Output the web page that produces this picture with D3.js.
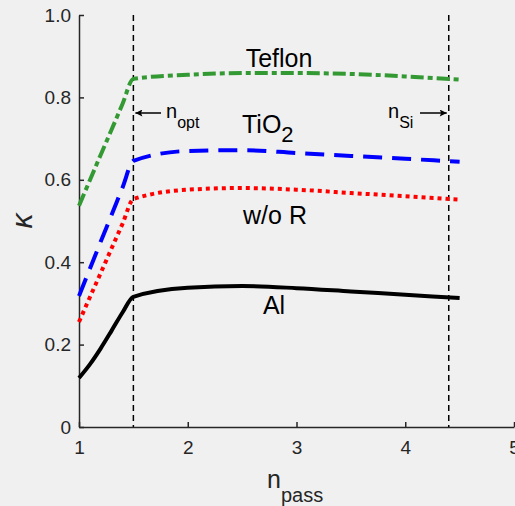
<!DOCTYPE html>
<html>
<head>
<meta charset="utf-8">
<script src="https://cdn.jsdelivr.net/npm/d3@7"></script>
<style>
  body { margin: 0; background: #f0f0f0; }
  svg { display: block; font-family: "Liberation Sans", Arial, sans-serif; }
</style>
</head>
<body>
<div id="chart"></div>
<script>
// n_pass sample points
var nPass = [1, 1.1, 1.2, 1.3, 1.4, 1.5, 2, 2.5, 3, 3.5, 4, 4.5];
// kappa for each reflector
var teflon = [0.537, 0.599, 0.661, 0.722, 0.784, 0.845, 0.855, 0.859, 0.859, 0.857, 0.851, 0.843];
var tio2   = [0.318, 0.384, 0.450, 0.515, 0.581, 0.646, 0.670, 0.672, 0.665, 0.658, 0.651, 0.644];
var woR    = [0.255, 0.315, 0.374, 0.434, 0.493, 0.553, 0.576, 0.580, 0.576, 0.568, 0.560, 0.552];
var al     = [0.119, 0.152, 0.191, 0.234, 0.278, 0.316, 0.338, 0.342, 0.337, 0.329, 0.321, 0.313];

var xTicks = [1, 2, 3, 4, 5];
var yTicks = [0, 0.2, 0.4, 0.6, 0.8, 1.0];
var markers = [1.5, 4.4]; // n_opt, n_Si

var width = 515, height = 506;
var margin = {top: 15, right: 1, bottom: 79, left: 79};

var svg = d3.select("#chart").append("svg")
    .attr("width", width)
    .attr("height", height);

var x = d3.scaleLinear().domain([1, 5]).range([margin.left, 514]);
var y = d3.scaleLinear().domain([0, 1]).range([427, margin.top]);

var axisColor = "#262626";

// axes, ticks inside
var xAxis = svg.append("g")
    .attr("transform", "translate(0," + y(0) + ")")
    .call(d3.axisBottom(x).tickValues(xTicks).tickSizeInner(-5).tickSizeOuter(0).tickPadding(14)
        .tickFormat(d3.format("d")));
var yAxis = svg.append("g")
    .attr("transform", "translate(" + x(1) + ",0)")
    .call(d3.axisLeft(y).tickValues(yTicks).tickSizeInner(-5).tickSizeOuter(0).tickPadding(8)
        .tickFormat(function (d) { return d === 0 ? "0" : d3.format(".1f")(d); }));

[xAxis, yAxis].forEach(function (g) {
    g.select(".domain").attr("stroke", axisColor).attr("stroke-width", 1.5);
    g.selectAll(".tick line").attr("stroke", axisColor).attr("stroke-width", 1.5);
    g.selectAll(".tick text").attr("fill", axisColor).style("font-size", "19px")
        .style("font-family", "'Liberation Sans', Arial, sans-serif");
});

// vertical dashed marker lines
svg.selectAll(".marker")
    .data(markers)
    .enter().append("line")
    .attr("x1", function (d) { return x(d); })
    .attr("x2", function (d) { return x(d); })
    .attr("y1", y(1))
    .attr("y2", y(0))
    .attr("stroke", "#000")
    .attr("stroke-width", 1.5)
    .attr("stroke-dasharray", "6,4");

var series = [
    {name: "Teflon", values: teflon, color: "#339933", dash: "13,4,5,4"},
    {name: "TiO2", values: tio2, color: "#0000ff", dash: "19,10"},
    {name: "w/o R", values: woR, color: "#ff0000", dash: "4,4"},
    {name: "Al", values: al, color: "#000000", dash: null}
];

var line = d3.line()
    .x(function (d, i) { return x(nPass[i]); })
    .y(function (d) { return y(d); })
    .curve(d3.curveMonotoneX);

svg.selectAll(".series")
    .data(series)
    .enter().append("path")
    .attr("fill", "none")
    .attr("stroke", function (d) { return d.color; })
    .attr("stroke-width", 4)
    .attr("stroke-dasharray", function (d) { return d.dash; })
    .attr("d", function (d) { return line(d.values); });

// series labels
var labelFont = "25px";
svg.append("text").attr("x", 279).attr("y", 67).attr("text-anchor", "middle")
    .style("font-size", labelFont).text("Teflon");
var tio = svg.append("text").attr("x", 242).attr("y", 133).style("font-size", labelFont);
tio.append("tspan").text("TiO");
tio.append("tspan").attr("dy", 9).style("font-size", "22px").text("2");
svg.append("text").attr("x", 275).attr("y", 224).attr("text-anchor", "middle")
    .style("font-size", labelFont).text("w/o R");
svg.append("text").attr("x", 274).attr("y", 314).attr("text-anchor", "middle")
    .style("font-size", labelFont).text("Al");

// arrow markers
svg.append("defs").append("marker")
    .attr("id", "arrow")
    .attr("viewBox", "0 0 10 10")
    .attr("refX", 10).attr("refY", 5)
    .attr("markerWidth", 11).attr("markerHeight", 7)
    .attr("markerUnits", "userSpaceOnUse")
    .attr("orient", "auto")
    .append("path").attr("d", "M0,0 L10,5 L0,10 L2,5 Z").attr("fill", "#000");

var arrowY = 113;
svg.append("line")
    .attr("x1", 161).attr("y1", arrowY)
    .attr("x2", x(markers[0]) + 2).attr("y2", arrowY)
    .attr("stroke", "#000").attr("stroke-width", 1.5)
    .attr("marker-end", "url(#arrow)");
var nopt = svg.append("text").attr("x", 166).attr("y", 118).style("font-size", "20px");
nopt.append("tspan").text("n");
nopt.append("tspan").attr("dy", 10).style("font-size", "16px").text("opt");

svg.append("line")
    .attr("x1", 420).attr("y1", arrowY)
    .attr("x2", x(markers[1]) - 2).attr("y2", arrowY)
    .attr("stroke", "#000").attr("stroke-width", 1.5)
    .attr("marker-end", "url(#arrow)");
var nsi = svg.append("text").attr("x", 388).attr("y", 118).style("font-size", "20px");
nsi.append("tspan").text("n");
nsi.append("tspan").attr("dy", 10).style("font-size", "16px").text("Si");

// axis titles
var xt = svg.append("text").attr("x", 267).attr("y", 488).attr("fill", axisColor).style("font-size", "25px");
xt.append("tspan").text("n");
xt.append("tspan").attr("dy", 14).style("font-size", "20px").text("pass");

svg.append("text")
    .attr("transform", "translate(32,221) rotate(-90)")
    .attr("text-anchor", "middle")
    .attr("fill", axisColor)
    .style("font-size", "30px")
    .style("font-style", "italic")
    .text("κ");
</script>
</body>
</html>
